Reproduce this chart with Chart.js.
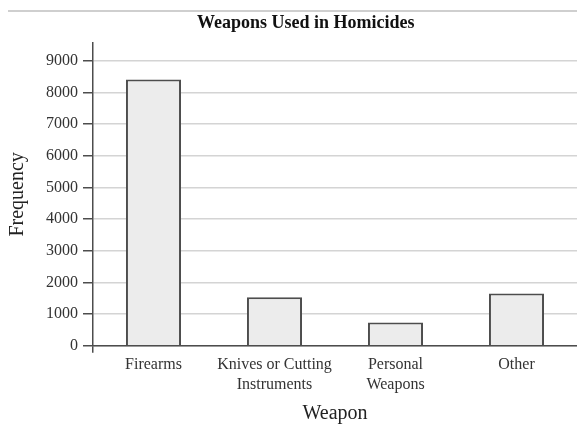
<!DOCTYPE html>
<html>
<head>
<meta charset="utf-8">
<script src="https://cdn.jsdelivr.net/npm/chart.js@4"></script>
<style>
  body { margin: 0; background: #fff; }
  #wrap { position: relative; width: 577px; height: 426px; }
  #rule { position: absolute; left: 8px; right: 0; top: 10px; border-top: 2px solid #cfcfcf; }
</style>
</head>
<body>
<div id="wrap">
  <canvas id="myChart" width="577" height="426"></canvas>
  <div id="rule"></div>
</div>
<script>
const weapons = [['Firearms'], ['Knives or Cutting', 'Instruments'], ['Personal', 'Weapons'], ['Other']];
const frequency = [8410, 1530, 730, 1650];
const freqTicks = [0, 1000, 2000, 3000, 4000, 5000, 6000, 7000, 8000, 9000];
const chartTitle = 'Weapons Used in Homicides';

const serif = '"Liberation Serif", "Times New Roman", serif';
const axisDark = '#4d4d4d';

// title sits a little right of the canvas middle
const titlePlugin = {
    id: 'topTitle',
    afterDraw(chart) {
        const c = chart.ctx;
        c.save();
        c.font = 'bold 18px ' + serif;
        c.fillStyle = '#111';
        c.textAlign = 'center';
        c.textBaseline = 'alphabetic';
        c.fillText(chartTitle, chart.width * 0.53, 28);
        c.restore();
    }
};

const canvas = document.getElementById('myChart').getContext('2d');

new Chart(canvas, {
    type: 'bar',
    data: {
        labels: weapons,
        datasets: [{
            data: frequency,
            backgroundColor: '#ececec',
            borderColor: axisDark,
            borderWidth: 2,
            barPercentage: 0.455,
            categoryPercentage: 1
        }]
    },
    options: {
        responsive: false,
        animation: false,
        layout: { padding: { top: 43, left: 0, right: 0, bottom: 0 } },
        plugins: {
            legend: { display: false },
            tooltip: { enabled: false }
        },
        scales: {
            x: {
                afterFit(scale) { scale.height = 80.3; },
                border: { color: axisDark, width: 1.5 },
                grid: {
                    offset: true,
                    drawOnChartArea: false,
                    tickLength: 7,
                    lineWidth: 1.5,
                    // only the left edge tick, so the y axis runs past zero
                    tickColor: ctx => ctx.index === 0 ? axisDark : 'rgba(0,0,0,0)'
                },
                ticks: {
                    padding: 2,
                    color: '#333',
                    font: { family: serif, size: 16, lineHeight: 1.25 },
                    maxRotation: 0
                },
                title: {
                    display: true,
                    text: 'Weapon',
                    color: '#222',
                    font: { family: serif, size: 20 },
                    padding: { top: 0, bottom: 0 }
                }
            },
            y: {
                afterFit(scale) { scale.width = 93; },
                // axis runs a bit above the last labelled tick
                min: 0,
                max: 9560,
                afterBuildTicks(scale) {
                    scale.ticks = freqTicks.map(v => ({ value: v }));
                },
                border: { color: axisDark, width: 1.5 },
                grid: {
                    color: '#d4d4d4',
                    lineWidth: 1.5,
                    tickLength: 10,
                    tickColor: axisDark
                },
                ticks: {
                    padding: 5,
                    color: '#333',
                    font: { family: serif, size: 16 },
                    callback: v => String(v)
                },
                title: {
                    display: true,
                    text: 'Frequency',
                    color: '#222',
                    font: { family: serif, size: 20 },
                    padding: { top: 6, bottom: 0 }
                }
            }
        }
    },
    plugins: [titlePlugin]
});
</script>
</body>
</html>
